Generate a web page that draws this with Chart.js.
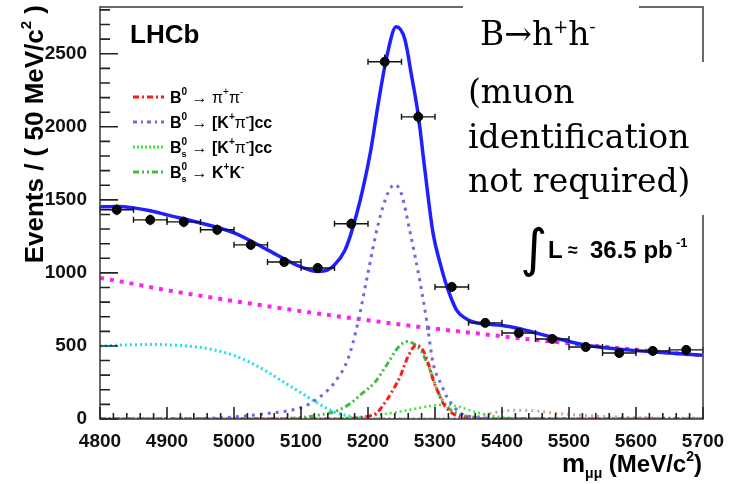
<!DOCTYPE html>
<html>
<head>
<meta charset="utf-8">
<script src="https://cdn.jsdelivr.net/npm/chart.js@4.4.1/dist/chart.umd.min.js"></script>
<style>
  html, body { margin: 0; padding: 0; background: #fff; }
</style>
</head>
<body>
<canvas id="c" width="737" height="484"></canvas>
<script>
// ---------------------------------------------------------------
// data (MeV/c^2, events / 50 MeV/c^2)
// ---------------------------------------------------------------
const binCentres = [4825, 4875, 4925, 4975, 5025, 5075, 5125, 5175, 5225, 5275, 5325, 5375, 5425, 5475, 5525, 5575, 5625, 5675];
const counts     = [1432, 1363, 1349, 1295, 1192, 1075, 1034, 1336, 2445, 2068, 904, 658, 589, 548, 493, 452, 466, 473];
const countErrs  = [38, 37, 37, 36, 35, 33, 32, 37, 50, 46, 30, 26, 24, 23, 22, 21, 22, 22];
const binHalfWidth = 25;

// total fit
const fitX = [4800, 4825, 4850, 4875, 4900, 4950, 5000, 5050, 5100, 5125, 5140, 5150, 5165, 5175, 5192, 5204, 5215, 5228, 5242, 5255, 5265, 5275, 5285, 5297, 5308, 5318, 5332, 5345, 5357, 5375, 5400, 5425, 5450, 5475, 5500, 5525, 5550, 5575, 5600, 5650, 5700];
const fitY = [1452, 1455, 1445, 1425, 1397, 1342, 1274, 1158, 1041, 1010, 1020, 1055, 1150, 1274, 1568, 1836, 2150, 2480, 2685, 2600, 2350, 2080, 1700, 1274, 1060, 904, 747, 690, 664, 650, 640, 620, 590, 560, 530, 505, 490, 478, 468, 452, 437];

// combinatorial background (magenta)
const combX = [4800, 4850, 4900, 4950, 5000, 5050, 5100, 5150, 5200, 5250, 5300, 5350, 5400, 5450, 5500, 5550, 5600, 5650, 5700];
const combY = [966, 925, 881, 844, 807, 772, 738, 706, 676, 646, 618, 592, 566, 541, 518, 496, 474, 454, 434];

// partially reconstructed background (cyan)
const prX = [4800, 4825, 4850, 4875, 4900, 4925, 4950, 4975, 5000, 5025, 5050, 5075, 5100, 5125, 5150, 5175, 5200, 5250, 5300, 5700];
const prY = [500, 505, 508, 510, 508, 502, 490, 468, 435, 385, 322, 250, 180, 108, 48, 18, 5, 1, 0, 0];

// B0 -> K+pi-
const kpiX = [4800, 4900, 4950, 5000, 5050, 5100, 5125, 5150, 5170, 5185, 5200, 5215, 5230, 5240, 5250, 5263, 5278, 5288, 5297, 5310, 5318, 5337, 5360, 5400, 5450, 5700];
const kpiY = [0, 1, 3, 14, 38, 78, 140, 250, 410, 660, 1000, 1330, 1550, 1605, 1540, 1275, 930, 660, 385, 230, 150, 45, 12, 3, 0, 0];

// B0 -> pi+pi-
const pipiX = [4800, 5150, 5180, 5200, 5213, 5228, 5240, 5248, 5260, 5272, 5282, 5290, 5297, 5305, 5312, 5325, 5340, 5360, 5400, 5700];
const pipiY = [0, 0, 5, 18, 42, 130, 220, 290, 430, 505, 470, 380, 270, 180, 110, 42, 12, 3, 0, 0];

// Bs -> K-pi+
const bskpiX = [4800, 5100, 5150, 5200, 5240, 5270, 5295, 5315, 5335, 5355, 5380, 5410, 5450, 5700];
const bskpiY = [0, 0, 5, 20, 45, 70, 90, 98, 85, 55, 25, 8, 1, 0];

// Bs -> K+K-
const kkX = [4800, 5050, 5100, 5130, 5150, 5170, 5190, 5210, 5230, 5245, 5258, 5270, 5280, 5288, 5297, 5303, 5318, 5335, 5360, 5400, 5700];
const kkY = [0, 2, 10, 30, 50, 95, 170, 250, 385, 490, 530, 510, 460, 385, 280, 200, 85, 35, 10, 2, 0];

// small extra background (brownish dots)
const otherX = [4800, 5330, 5360, 5390, 5420, 5450, 5480, 5520, 5580, 5650, 5700];
const otherY = [0, 0, 15, 45, 60, 55, 40, 25, 12, 6, 4];

const xTicks = [4800, 4900, 5000, 5100, 5200, 5300, 5400, 5500, 5600, 5700];
const yTicks = [0, 500, 1000, 1500, 2000, 2500];
const xMin = 4800, xMax = 5700, yMax = 2820;

const pts = (xs, ys) => xs.map((x, i) => ({ x: x, y: ys[i] }));

const SANS = '"Liberation Sans", Arial, sans-serif';

// draws text pieces one after another (sup/sub), returns width
function rich(ctx, segs, x, y, onlyMeasure) {
    let cx = x, prevStart = x;
    segs.forEach(s => {
        ctx.font = s.f;
        const w = ctx.measureText(s.t).width;
        const sx = s.stack ? prevStart : cx;
        if (!onlyMeasure) ctx.fillText(s.t, sx, y + (s.dy || 0));
        if (s.stack) cx = Math.max(cx, sx + w);
        else { prevStart = sx; cx = sx + w; }
    });
    return cx - x;
}

// ---------------------------------------------------------------
// ROOT-like decorations: error bars, inner ticks, frame, texts
// ---------------------------------------------------------------
const rootLook = {
    id: 'rootLook',
    afterDatasetsDraw(chart) {
        const { ctx, chartArea: a, scales: { x, y } } = chart;
        ctx.save();
        ctx.setLineDash([]);
        ctx.strokeStyle = '#111';
        ctx.lineWidth = 1.4;
        binCentres.forEach((b, i) => {
            const px = x.getPixelForValue(b), py = y.getPixelForValue(counts[i]);
            const x0 = x.getPixelForValue(b - binHalfWidth), x1 = x.getPixelForValue(b + binHalfWidth);
            const y0 = y.getPixelForValue(counts[i] - countErrs[i]), y1 = y.getPixelForValue(counts[i] + countErrs[i]);
            ctx.beginPath();
            ctx.moveTo(x0, py); ctx.lineTo(x1, py);
            ctx.moveTo(x0, py - 3); ctx.lineTo(x0, py + 3);
            ctx.moveTo(x1, py - 3); ctx.lineTo(x1, py + 3);
            ctx.moveTo(px, y0); ctx.lineTo(px, y1);
            ctx.stroke();
        });

        // frame
        ctx.strokeStyle = '#444';
        ctx.lineWidth = 1.6;
        ctx.strokeRect(a.left, a.top, a.right - a.left, a.bottom - a.top);

        // inner ticks: majors every 100 MeV / 500 events, minors every 20 / 100
        ctx.strokeStyle = '#222';
        ctx.lineWidth = 1.6;
        ctx.beginPath();
        for (let v = xMin; v <= xMax; v += 20) {
            const px = x.getPixelForValue(v);
            const len = (v % 100 === 0) ? 12 : 6;
            ctx.moveTo(px, a.bottom);
            ctx.lineTo(px, a.bottom - len);
        }
        for (let v = 0; v <= yMax; v += 100) {
            const py = y.getPixelForValue(v);
            const len = (v % 500 === 0) ? 18 : 10;
            ctx.moveTo(a.left, py);
            ctx.lineTo(a.left + len, py);
        }
        ctx.stroke();
        ctx.restore();
    },
    afterDraw(chart) {
        const { ctx } = chart;
        ctx.save();
        ctx.setLineDash([]);

        // white boxes of the overlaid text
        ctx.fillStyle = '#fff';
        ctx.fillRect(463, 0, 176, 62);
        ctx.fillRect(463, 62, 274, 153);

        ctx.fillStyle = '#000';
        ctx.textAlign = 'left';
        ctx.textBaseline = 'alphabetic';

        // LHCb
        ctx.font = 'bold 26px ' + SANS;
        ctx.fillText('LHCb', 130, 43);

        // legend
        const legendRows = [
            { c: '#ff1a1a', d: [6, 3, 2, 3], t: [['B'], ['0', 'sup'], [' \u2192 ', 'n'], ['\u03c0', 'n'], ['+', 'supn'], ['\u03c0', 'n'], ['-', 'supn']] },
            { c: '#6a6ae6', d: [4, 4, 2, 4], t: [['B'], ['0', 'sup'], [' \u2192 [K'], ['+', 'sup'], ['\u03c0', 'n'], ['-', 'sup'], [']cc']] },
            { c: '#33ee33', d: [2, 2], t: [['B'], ['0', 'sup'], ['s', 'sub'], [' \u2192 [K'], ['+', 'sup'], ['\u03c0', 'n'], ['-', 'sup'], [']cc']] },
            { c: '#44bb44', d: [6, 3, 2, 3, 2, 3], t: [['B'], ['0', 'sup'], ['s', 'sub'], [' \u2192 K'], ['+', 'sup'], ['K'], ['-', 'sup']] }
        ];
        legendRows.forEach((r, i) => {
            const yc = 97 + i * 25;
            ctx.strokeStyle = r.c;
            ctx.lineWidth = 3;
            ctx.setLineDash(r.d);
            ctx.beginPath();
            ctx.moveTo(133, yc); ctx.lineTo(164, yc);
            ctx.stroke();
            ctx.setLineDash([]);
            const segs = r.t.map(p => {
                const k = p[1];
                if (k === 'sup') return { t: p[0], f: 'bold 10px ' + SANS, dy: -8 };
                if (k === 'supn') return { t: p[0], f: '10px ' + SANS, dy: -8 };
                if (k === 'sub') return { t: p[0], f: 'bold 9px ' + SANS, dy: 4, stack: true };
                if (k === 'n') return { t: p[0], f: '16px ' + SANS };
                return { t: p[0], f: 'bold 16px ' + SANS };
            });
            rich(ctx, segs, 170, yc + 6);
        });

        // B -> h+h-  and note
        ctx.font = '30px "DejaVu Serif"';
        const sz = Math.round(30 * 221 / ctx.measureText('identification').width);
        const serif = sz + 'px "DejaVu Serif"';
        const serifSup = Math.round(sz * 0.55) + 'px "DejaVu Serif"';
        rich(ctx, [
            { t: 'B\u2192h', f: serif },
            { t: '+', f: serifSup, dy: -12 },
            { t: 'h', f: serif },
            { t: '-', f: serifSup, dy: -12 }
        ], 480, 45);
        ctx.font = serif;
        ctx.fillText('(muon', 468, 103);
        ctx.fillText('identification', 468, 148);
        ctx.fillText('not required)', 468, 192);

        // integrated luminosity
        ctx.font = '52px "DejaVu Sans"';
        ctx.fillText('\u222b', 520, 266);
        ctx.font = 'bold 24px ' + SANS;
        ctx.fillText('L', 548, 258);
        ctx.font = 'bold 18px ' + SANS;
        ctx.fillText('\u2248', 568, 256);
        ctx.font = 'bold 24px ' + SANS;
        ctx.fillText('36.5 pb', 590, 258);
        ctx.font = 'bold 13px ' + SANS;
        ctx.fillText('-1', 676, 247);

        // axis titles
        const xt = [
            { t: 'm', f: 'bold 26px ' + SANS },
            { t: '\u03bc\u03bc', f: 'bold 14px ' + SANS, dy: 6 },
            { t: ' (MeV/c', f: 'bold 24px ' + SANS },
            { t: '2', f: 'bold 14px ' + SANS, dy: -11 },
            { t: ')', f: 'bold 24px ' + SANS }
        ];
        const xw = rich(ctx, xt, 0, 0, true);
        rich(ctx, xt, 702 - xw, 472);

        const yt = [
            { t: 'Events / ( 50 MeV/c', f: 'bold 26px ' + SANS },
            { t: '2', f: 'bold 15px ' + SANS, dy: -12 },
            { t: ' )', f: 'bold 26px ' + SANS }
        ];
        const yw = rich(ctx, yt, 0, 0, true);
        ctx.translate(43, 5);
        ctx.rotate(-Math.PI / 2);
        rich(ctx, yt, -yw, 0);

        ctx.restore();
    }
};

function curve(label, xs, ys, color, width, dash, order) {
    return {
        label: label,
        data: pts(xs, ys),
        borderColor: color,
        borderWidth: width,
        borderDash: dash,
        pointRadius: 0,
        fill: false,
        cubicInterpolationMode: 'monotone',
        order: order
    };
}

const tickFont = { family: SANS, size: 19, weight: 'bold' };

new Chart(document.getElementById('c').getContext('2d'), {
    type: 'line',
    data: {
        datasets: [
            {
                label: 'data',
                data: pts(binCentres, counts),
                showLine: false,
                pointRadius: 4.5,
                pointBackgroundColor: '#000',
                pointBorderColor: '#000',
                order: 0
            },
            curve('fit', fitX, fitY, '#1f1fff', 3.5, [], 1),
            curve('B0 -> pi+pi-', pipiX, pipiY, '#ff1a1a', 3, [6, 3, 2, 3], 3),
            curve('Bs -> K+K-', kkX, kkY, '#44bb44', 3, [6, 3, 2, 3, 2, 3], 4),
            curve('B0 -> K+pi-', kpiX, kpiY, '#6a6ae6', 3, [3, 5], 2),
            curve('Bs -> K-pi+', bskpiX, bskpiY, '#33ee33', 2.5, [2, 3], 5),
            curve('combinatorial', combX, combY, '#ff22ee', 4, [4, 6], 6),
            curve('partially reco', prX, prY, '#22ddee', 3, [2, 3], 7),
            curve('other', otherX, otherY, 'rgba(190,150,120,0.8)', 3, [2, 4], 8)
        ]
    },
    options: {
        responsive: false,
        animation: false,
        events: [],
        layout: { padding: { left: 0, right: 34, top: 7, bottom: 0 } },
        plugins: { legend: { display: false }, tooltip: { enabled: false } },
        scales: {
            x: {
                type: 'linear',
                min: xMin,
                max: xMax,
                afterBuildTicks: s => { s.ticks = xTicks.map(v => ({ value: v })); },
                afterFit: s => { s.height = 65; s.paddingLeft = 0; s.paddingRight = 0; },
                ticks: { color: '#111', padding: 3, maxRotation: 0, autoSkip: false, font: tickFont, callback: v => String(v) },
                grid: { display: false },
                border: { display: false }
            },
            y: {
                type: 'linear',
                min: 0,
                max: yMax,
                afterBuildTicks: s => { s.ticks = yTicks.map(v => ({ value: v })); },
                afterFit: s => { s.width = 100; s.paddingTop = 0; s.paddingBottom = 0; },
                ticks: { color: '#111', padding: 5, font: tickFont, callback: v => String(v) },
                grid: { display: false },
                border: { display: false }
            }
        }
    },
    plugins: [rootLook]
});
</script>
</body>
</html>
